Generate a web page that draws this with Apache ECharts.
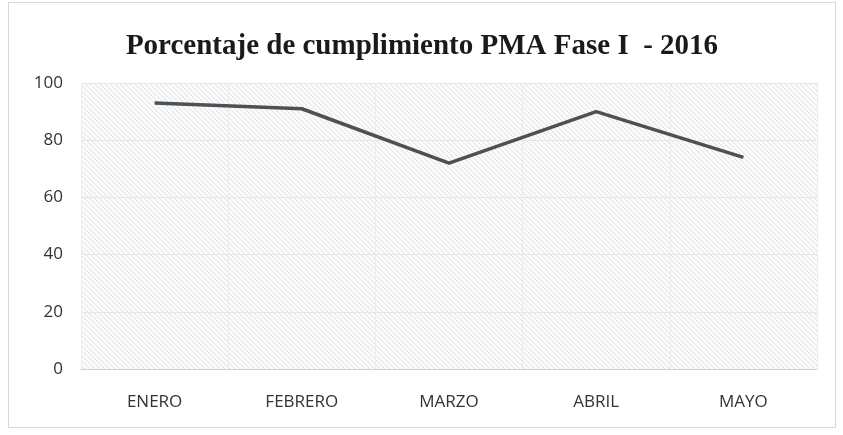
<!DOCTYPE html>
<html>
<head>
<meta charset="utf-8">
<script src="https://cdn.jsdelivr.net/npm/echarts@6/dist/echarts.min.js"></script>
<style>
  html, body { margin: 0; padding: 0; background: #fff; }
  #chart { position: absolute; left: 8px; top: 2px; width: 828px; height: 426px;
           border: 1px solid #d8d8d8; box-sizing: border-box; }
</style>
</head>
<body>
<div id="chart"></div>
<script>
  const months = ['ENERO', 'FEBRERO', 'MARZO', 'ABRIL', 'MAYO'];
  const cumplimiento = [93, 91, 72, 90, 74];

  // diagonal hatch like the original plot area fill
  const tile = document.createElement('canvas');
  tile.width = 5;
  tile.height = 5;
  const ctx = tile.getContext('2d');
  ctx.fillStyle = '#fbfbfb';
  ctx.fillRect(0, 0, 5, 5);
  ctx.strokeStyle = '#e0e0e0';
  ctx.lineWidth = 1;
  ctx.beginPath();
  ctx.moveTo(0, 0); ctx.lineTo(5, 5);
  ctx.moveTo(-3, 2); ctx.lineTo(3, 8);
  ctx.moveTo(2, -3); ctx.lineTo(8, 3);
  ctx.stroke();

  const myChart = echarts.init(document.getElementById('chart'));
  myChart.setOption({
    animation: false,
    title: {
      text: 'Porcentaje de cumplimiento PMA Fase I  - 2016',
      left: 'center',
      top: 24,
      textStyle: {
        fontFamily: 'Liberation Serif',
        fontWeight: 'bold',
        fontSize: 29,
        color: '#1a1a1a'
      }
    },
    grid: {
      show: true,
      left: 72,
      right: 18,
      top: 80,
      bottom: 58,
      borderWidth: 0,
      backgroundColor: { image: tile, repeat: 'repeat' }
    },
    xAxis: {
      type: 'category',
      data: months,
      axisLine: { lineStyle: { color: '#cfcfcf' } },
      axisTick: { show: false },
      axisLabel: { color: '#333', fontSize: 17, margin: 25, fontFamily: 'Open Sans' },
      splitLine: { show: true, lineStyle: { color: '#ececec' } }
    },
    yAxis: {
      type: 'value',
      min: 0,
      max: 100,
      interval: 20,
      axisLine: { show: false },
      axisTick: { show: false },
      axisLabel: { color: '#333', fontSize: 17, margin: 18, fontFamily: 'Open Sans' },
      splitLine: { lineStyle: { color: '#e6e6e6' } }
    },
    series: [
      {
        type: 'line',
        data: cumplimiento,
        symbol: 'none',
        lineStyle: { color: '#4a5157', width: 3.5 }
      }
    ]
  });
</script>
</body>
</html>
